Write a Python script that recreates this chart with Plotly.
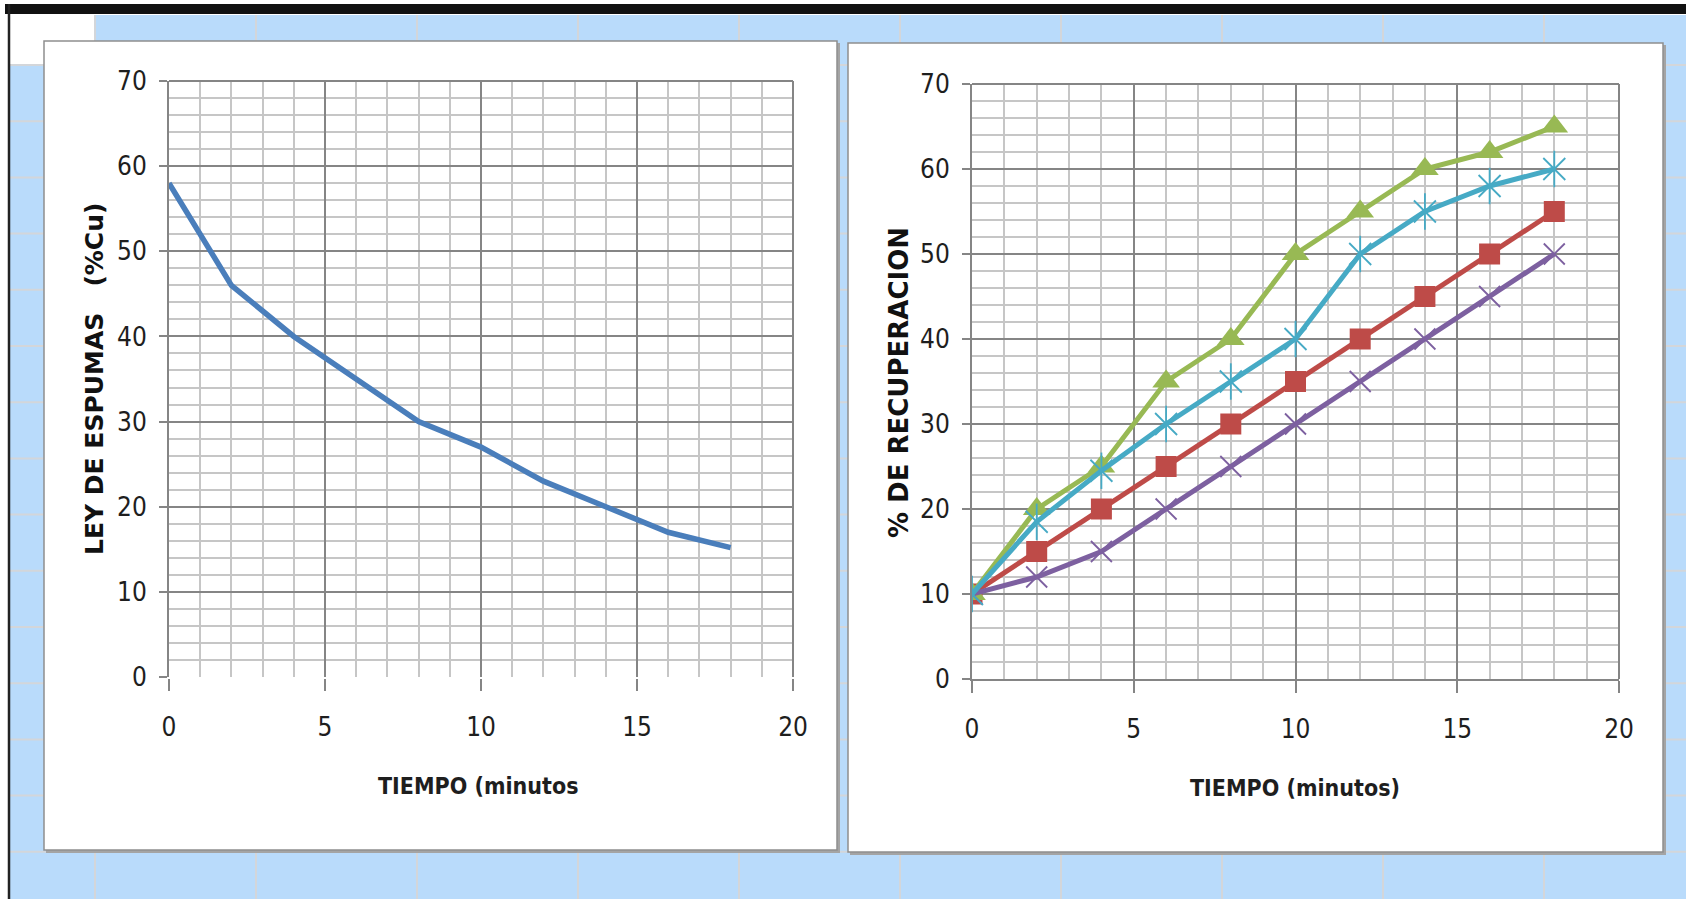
import plotly.graph_objects as go

# Figure kept a few pixels smaller than the 1688x905 window so that the
# page never overflows (which would make the browser add scrollbars).
W, H = 1686, 899

# ---------------- data ----------------
tiempo = [0, 2, 4, 6, 8, 10, 12, 14, 16, 18]
ley_espumas = [58, 46, 40, 35, 30, 27, 23, 20, 17, 15.2]

rec_rojo = [10, 15, 20, 25, 30, 35, 40, 45, 50, 55]
rec_verde = [10, 20, 25, 35, 40, 50, 55, 60, 62, 65]
rec_morado = [10, 12, 15, 20, 25, 30, 35, 40, 45, 50]
rec_celeste = [10, 18.5, 24.5, 30, 35, 40, 50, 55, 58, 60]

x_ticks = [0, 5, 10, 15, 20]
y_ticks = [0, 10, 20, 30, 40, 50, 60, 70]

# ---------------- helpers (reference pixel -> paper fraction) ----------------
def px(x):
    return x / W

def py(y):
    return 1 - y / H

NARROW = "DejaVu Sans Condensed, Liberation Sans Narrow, Arial Narrow, sans-serif"
BOLDW = "DejaVu Sans, Verdana, sans-serif"
TXT = "#1e1e1e"
MAJ = "#858585"
MIN = "#c6c6c6"
BLUEBG = "#b9dbfb"
CELL = "#d3d6da"

shapes = []

def rect(x0, y0, x1, y1, fill, line=None, lw=0):
    shapes.append(dict(type="rect", xref="paper", yref="paper",
                       x0=px(x0), x1=px(x1), y0=py(y1), y1=py(y0),
                       fillcolor=fill, line=dict(color=line or fill, width=lw),
                       layer="below"))

def hline(x0, x1, y, color, w):
    shapes.append(dict(type="line", xref="paper", yref="paper",
                       x0=px(x0), x1=px(x1), y0=py(y), y1=py(y),
                       line=dict(color=color, width=w), layer="below"))

def vline(x, y0, y1, color, w):
    shapes.append(dict(type="line", xref="paper", yref="paper",
                       x0=px(x), x1=px(x), y0=py(y0), y1=py(y1),
                       line=dict(color=color, width=w), layer="below"))

# spreadsheet background
rect(9, 15, W, H, BLUEBG)
rect(9, 15, 95, 65, "white")
for k in range(11):
    vline(95 + 161 * k, 15, H, CELL, 2)
for k in range(15):
    hline(9, W, 65 + 56.2 * k, CELL, 2)
# black frame at top / left
rect(5, 4, W, 14, "#111111")
vline(9, 4, H, "#222222", 2.5)

# chart panels (shadow + white box)
for (x0, y0, x1, y1) in [(44, 41, 837, 850), (848, 43, 1663, 852)]:
    rect(x0 + 2, y0 + 2, x1 + 3, y1 + 3, "#a4a4a4")
    rect(x0, y0, x1, y1, "white", "#8e8e8e", 1.5)

# plot-area edges (top and right)
for xr, yr in [("x", "y"), ("x2", "y2")]:
    shapes.append(dict(type="line", xref=xr + " domain", yref=yr + " domain",
                       x0=0, x1=1, y0=1, y1=1, line=dict(color=MAJ, width=2)))
    shapes.append(dict(type="line", xref=xr + " domain", yref=yr + " domain",
                       x0=1, x1=1, y0=0, y1=1, line=dict(color=MAJ, width=2)))

fig = go.Figure()

# left chart
fig.add_trace(go.Scatter(x=tiempo, y=ley_espumas, mode="lines",
                         line=dict(color="#4a7ebb", width=5.5),
                         xaxis="x", yaxis="y", showlegend=False))

# right chart
def serie(y, color, symbol, size, open_=False):
    mk = dict(symbol=symbol, size=size, color=color)
    if open_:
        mk["line"] = dict(color=color, width=1.8)
    fig.add_trace(go.Scatter(x=tiempo, y=y, mode="lines+markers",
                             line=dict(color=color, width=5), marker=mk,
                             xaxis="x2", yaxis="y2", showlegend=False))

serie(rec_rojo, "#be4b48", "square", 21)
serie(rec_verde, "#98b954", "triangle-up", 24)
serie(rec_morado, "#7d60a0", "x-thin-open", 21, True)
serie(rec_celeste, "#46aac5", "x-thin-open", 22, True)
fig.add_trace(go.Scatter(x=tiempo, y=rec_celeste, mode="markers",
                         marker=dict(symbol="line-ns-open", size=26, color="#46aac5",
                                     line=dict(color="#46aac5", width=1.8)),
                         xaxis="x2", yaxis="y2", showlegend=False))

def xax(domain, anchor, linecolor):
    return dict(domain=domain, anchor=anchor, range=[0, 20], tickvals=x_ticks,
                showgrid=True, gridcolor=MAJ, gridwidth=2, zeroline=False,
                minor=dict(dtick=1, tick0=0, showgrid=True, gridcolor=MIN, gridwidth=2),
                ticks="outside", ticklen=12, tickwidth=2, tickcolor=MAJ,
                showline=True, linecolor=linecolor, linewidth=2,
                tickfont=dict(family=NARROW, size=26, color=TXT),
                ticklabelstandoff=14, fixedrange=True, automargin=False)

def yax(domain, anchor):
    return dict(domain=domain, anchor=anchor, range=[0, 70], tickvals=y_ticks,
                showgrid=True, gridcolor=MAJ, gridwidth=2, zeroline=False,
                minor=dict(dtick=2, tick0=0, showgrid=True, gridcolor=MIN, gridwidth=2),
                ticks="outside", ticklen=8, tickwidth=2, tickcolor=MAJ,
                showline=True, linecolor=MAJ, linewidth=2,
                tickfont=dict(family=NARROW, size=26, color=TXT),
                ticklabelstandoff=7, fixedrange=True, automargin=False)

annotations = [
    dict(text="<b>TIEMPO (minutos</b>", x=px(479), y=py(786), xref="paper", yref="paper",
         showarrow=False, xanchor="center", yanchor="middle",
         font=dict(family=NARROW, size=23, color=TXT)),
    dict(text="<b>TIEMPO (minutos)</b>", x=px(1295), y=py(788), xref="paper", yref="paper",
         showarrow=False, xanchor="center", yanchor="middle",
         font=dict(family=NARROW, size=23, color=TXT)),
    dict(text="<b>LEY DE ESPUMAS   (%Cu)</b>", x=px(95), y=py(379), xref="paper", yref="paper",
         showarrow=False, xanchor="center", yanchor="middle", textangle=-90,
         font=dict(family=BOLDW, size=25, color="#111111")),
    dict(text="<b>% DE RECUPERACION</b>", x=px(899), y=py(383), xref="paper", yref="paper",
         showarrow=False, xanchor="center", yanchor="middle", textangle=-90,
         font=dict(family=BOLDW, size=26, color="#111111")),
]

fig.update_layout(
    width=W, height=H, autosize=False,
    margin=dict(l=0, r=0, t=0, b=0, autoexpand=False),
    paper_bgcolor="white", plot_bgcolor="rgba(0,0,0,0)",
    xaxis=xax([px(169), px(793)], "y", "white"),
    yaxis=yax([py(677), py(81)], "x"),
    xaxis2=xax([px(972), px(1619)], "y2", MAJ),
    yaxis2=yax([py(679), py(84)], "x2"),
    shapes=shapes, annotations=annotations, showlegend=False,
)

fig.write_html("out.html", config={"displayModeBar": False, "responsive": False})
